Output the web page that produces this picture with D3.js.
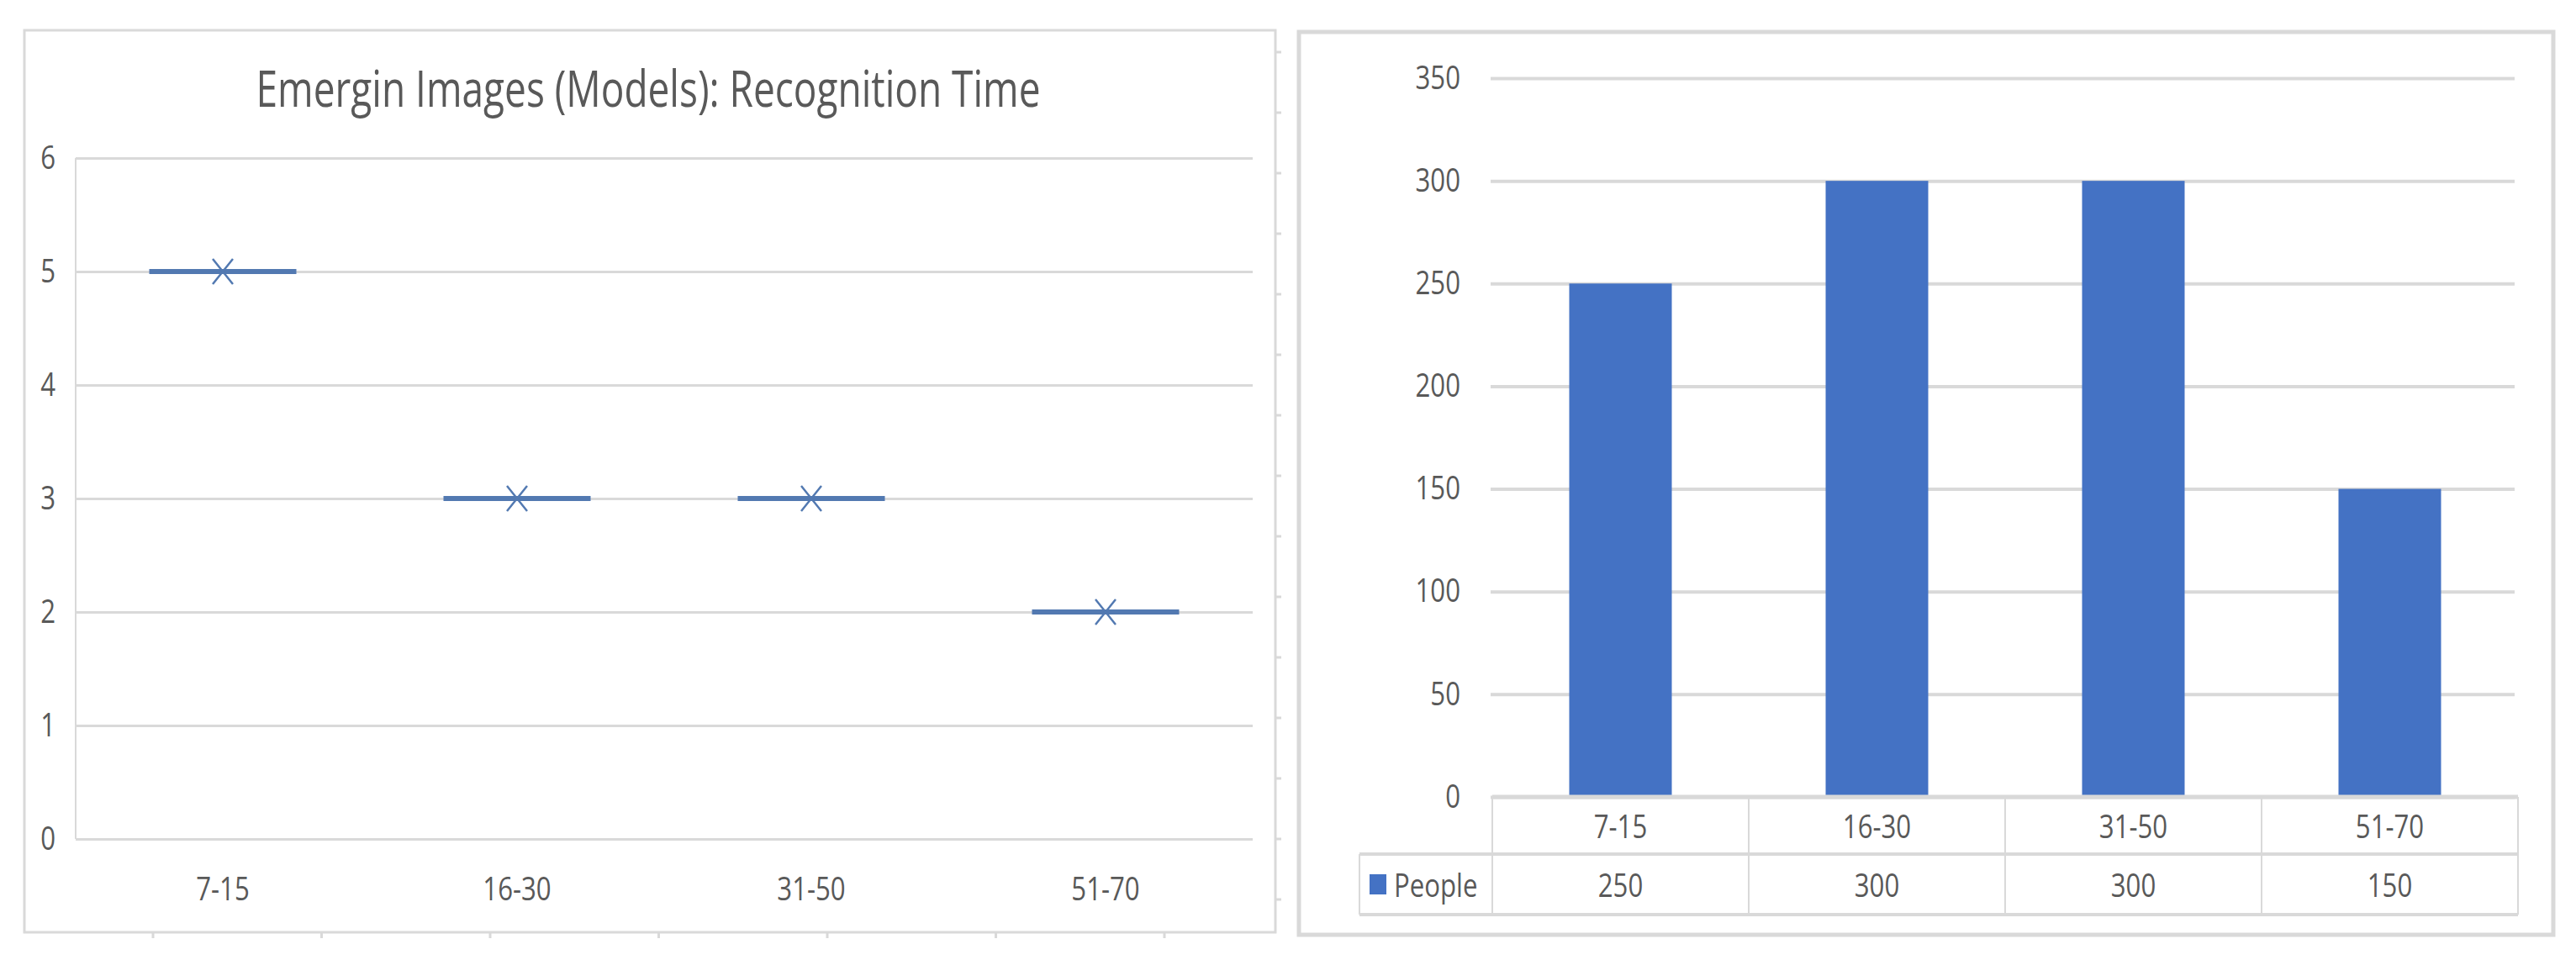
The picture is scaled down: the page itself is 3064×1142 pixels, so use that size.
<!DOCTYPE html>
<html>
<head>
<meta charset="utf-8">
<script src="https://cdn.jsdelivr.net/npm/d3@7"></script>
<style>
  html, body { margin: 0; padding: 0; background: #ffffff; }
  svg { display: block; }
  text { font-family: "Open Sans", "Noto Sans", sans-serif; fill: #595959; }
</style>
</head>
<body>
<svg id="chart" width="3064" height="1142"></svg>
<script>
// ---------- data ----------
const chartTitle = "Emergin Images (Models): Recognition Time";
const categories = ["7-15", "16-30", "31-50", "51-70"];
const recognitionTime = [5, 3, 3, 2];
const seriesName = "People";
const people = [250, 300, 300, 150];
const leftTickValues = [0, 1, 2, 3, 4, 5, 6];
const rightTickValues = [0, 50, 100, 150, 200, 250, 300, 350];

// ---------- setup ----------
const svg = d3.select("#chart");
const GRID = "#d9d9d9";
const MARK = "#5279b1";
const BAR = "#4472c4";
const SQUEEZE = 0.82;

function squeeze(sel, f) {
  sel.each(function () {
    const w = this.getComputedTextLength();
    d3.select(this).attr("textLength", w * (f || SQUEEZE)).attr("lengthAdjust", "spacingAndGlyphs");
  });
}

// ================= LEFT PANEL =================
const L = { x0: 29, y0: 36, x1: 1517, y1: 1109 };
svg.append("rect")
  .attr("x", L.x0).attr("y", L.y0)
  .attr("width", L.x1 - L.x0).attr("height", L.y1 - L.y0)
  .attr("fill", "#fff").attr("stroke", GRID).attr("stroke-width", 3);

// ruler-like ticks outside the panel (right and bottom)
const rightRuler = d3.range(15);
svg.append("g").selectAll("line").data(rightRuler).join("line")
  .attr("x1", L.x1).attr("x2", L.x1 + 7)
  .attr("y1", d => 62 + d * 72).attr("y2", d => 62 + d * 72)
  .attr("stroke", GRID).attr("stroke-width", 3);
const bottomRuler = d3.range(7);
svg.append("g").selectAll("line").data(bottomRuler).join("line")
  .attr("x1", d => 182 + d * 200.5).attr("x2", d => 182 + d * 200.5)
  .attr("y1", L.y1).attr("y2", L.y1 + 7)
  .attr("stroke", GRID).attr("stroke-width", 3);

// title
svg.append("text")
  .attr("x", 771).attr("y", 127)
  .attr("text-anchor", "middle")
  .style("font-size", "60px")
  .text(chartTitle)
  .call(s => s.attr("textLength", 933).attr("lengthAdjust", "spacingAndGlyphs"));

const lx = d3.scaleBand().domain(categories).range([90, 1490]);
const ly = d3.scaleLinear().domain([0, 6]).range([998, 188]);

// gridlines + y labels
const lyAxis = svg.append("g")
  .attr("transform", "translate(90,0)")
  .call(d3.axisLeft(ly).tickValues(leftTickValues).tickSize(-1400).tickPadding(24).tickFormat(d3.format("d")));
lyAxis.select(".domain").remove();
lyAxis.selectAll(".tick line").attr("stroke", GRID).attr("stroke-width", 3);
lyAxis.selectAll(".tick text").style("font-size", "38px").attr("fill", "#595959").call(squeeze);
// vertical axis line
svg.append("line").attr("x1", 90).attr("x2", 90).attr("y1", ly(6)).attr("y2", ly(0))
  .attr("stroke", GRID).attr("stroke-width", 2);

// category labels
const lxAxis = svg.append("g")
  .attr("transform", `translate(0,${ly(0)})`)
  .call(d3.axisBottom(lx).tickSize(0).tickPadding(46));
lxAxis.select(".domain").remove();
lxAxis.selectAll(".tick text").style("font-size", "38px").attr("fill", "#595959").call(squeeze);

// marks: horizontal segment + X marker
const marks = svg.append("g").selectAll("g").data(categories).join("g")
  .attr("transform", (d, i) => `translate(${lx(d) + lx.bandwidth() / 2},${ly(recognitionTime[i])})`);
marks.append("line")
  .attr("x1", -lx.bandwidth() / 4).attr("x2", lx.bandwidth() / 4)
  .attr("y1", 0).attr("y2", 0)
  .attr("stroke", MARK).attr("stroke-width", 6);
marks.append("path")
  .attr("d", "M-12,-15L12,15M-12,15L12,-15")
  .attr("stroke", MARK).attr("stroke-width", 2.5).attr("fill", "none");

// ================= RIGHT PANEL =================
const R = { x0: 1545, y0: 38, x1: 3037, y1: 1112 };
svg.append("rect")
  .attr("x", R.x0).attr("y", R.y0)
  .attr("width", R.x1 - R.x0).attr("height", R.y1 - R.y0)
  .attr("fill", "#fff").attr("stroke", GRID).attr("stroke-width", 5);

const rx = d3.scaleBand().domain(categories).range([1775, 2995]).paddingInner(0).paddingOuter(0);
const ry = d3.scaleLinear().domain([0, 350]).range([948, 93]);

const ryAxis = svg.append("g")
  .attr("transform", "translate(1773,0)")
  .call(d3.axisLeft(ry).tickValues(rightTickValues).tickSize(-1218).tickPadding(36).tickFormat(d3.format("d")));
ryAxis.select(".domain").remove();
ryAxis.selectAll(".tick line").attr("stroke", GRID).attr("stroke-width", 4);
ryAxis.selectAll(".tick text").style("font-size", "38px").attr("fill", "#595959").call(squeeze);

// bars
const barW = 122;
svg.append("g").selectAll("rect").data(categories).join("rect")
  .attr("x", d => rx(d) + rx.bandwidth() / 2 - barW / 2)
  .attr("width", barW)
  .attr("y", (d, i) => ry(people[i]))
  .attr("height", (d, i) => ry(0) - ry(people[i]))
  .attr("fill", BAR);

// data table
const T = { top: 948, mid: 1016, bot: 1088, legendX: 1617 };
const tbl = svg.append("g");
// horizontal lines
tbl.append("line").attr("x1", 1775).attr("x2", 2995).attr("y1", T.top).attr("y2", T.top).attr("stroke", GRID).attr("stroke-width", 5);
tbl.append("line").attr("x1", T.legendX).attr("x2", 2995).attr("y1", T.mid).attr("y2", T.mid).attr("stroke", GRID).attr("stroke-width", 4);
tbl.append("line").attr("x1", T.legendX).attr("x2", 2995).attr("y1", T.bot).attr("y2", T.bot).attr("stroke", GRID).attr("stroke-width", 4);
// vertical lines
const colEdges = categories.map(d => rx(d)).concat([rx.range()[1]]);
tbl.selectAll("line.col").data(colEdges).join("line").attr("class", "col")
  .attr("x1", d => d).attr("x2", d => d).attr("y1", T.top).attr("y2", T.bot)
  .attr("stroke", GRID).attr("stroke-width", 2);
tbl.append("line").attr("x1", T.legendX).attr("x2", T.legendX).attr("y1", T.mid).attr("y2", T.bot)
  .attr("stroke", GRID).attr("stroke-width", 2);

// table texts
tbl.selectAll("text.cat").data(categories).join("text").attr("class", "cat")
  .attr("x", d => rx(d) + rx.bandwidth() / 2).attr("y", (T.top + T.mid) / 2)
  .attr("text-anchor", "middle").attr("dominant-baseline", "central")
  .style("font-size", "38px").text(d => d).call(squeeze);
tbl.selectAll("text.val").data(categories).join("text").attr("class", "val")
  .attr("x", d => rx(d) + rx.bandwidth() / 2).attr("y", (T.mid + T.bot) / 2)
  .attr("text-anchor", "middle").attr("dominant-baseline", "central")
  .style("font-size", "38px").text((d, i) => people[i]).call(squeeze);

// legend key + series name
tbl.append("rect").attr("x", 1629).attr("y", 1040).attr("width", 20).attr("height", 24).attr("fill", BAR);
tbl.append("text").attr("x", 1658).attr("y", (T.mid + T.bot) / 2)
  .attr("dominant-baseline", "central")
  .style("font-size", "38px").text(seriesName).call(squeeze);
</script>
</body>
</html>
